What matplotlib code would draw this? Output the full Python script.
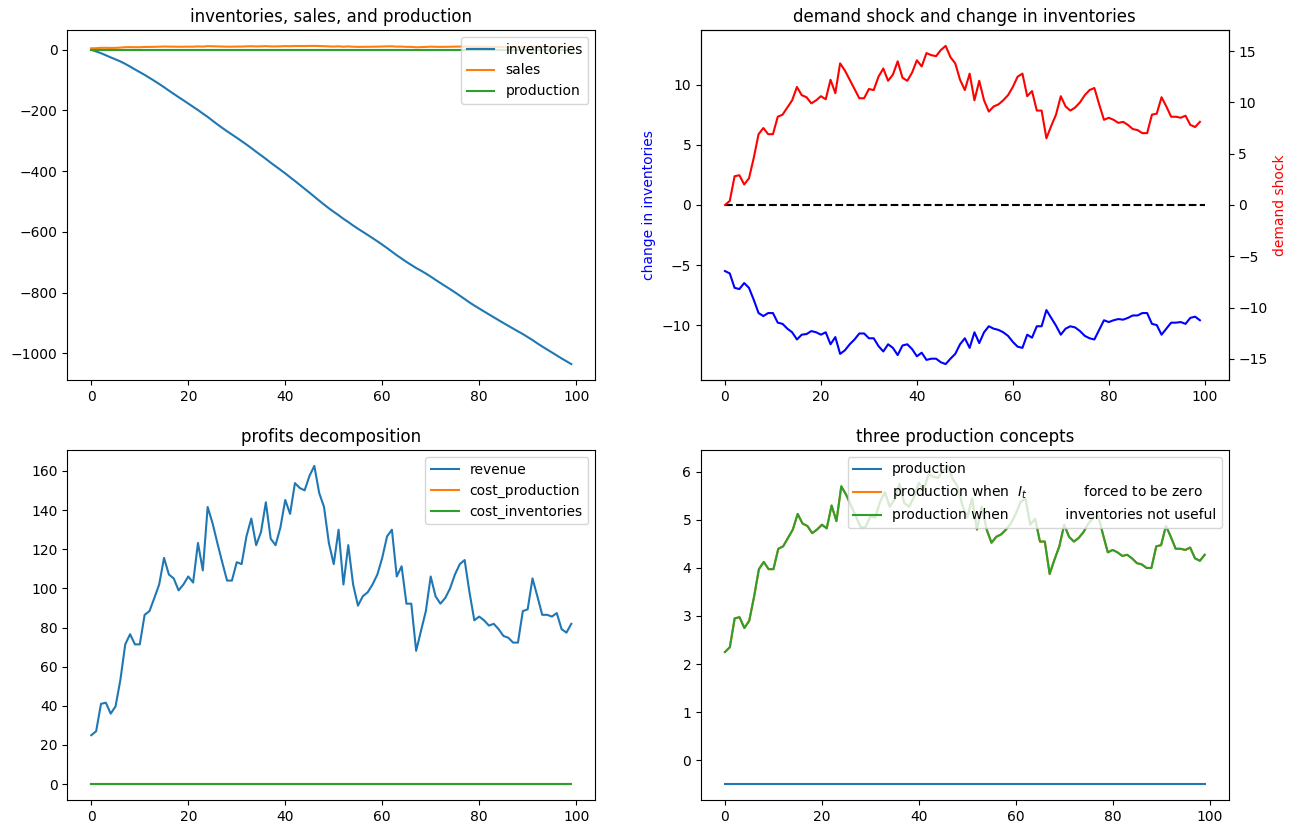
import numpy as np
import matplotlib.pyplot as plt

# demand shock (right axis of the top right panel)
demand_shock = [0.0, 0.4, 2.8, 2.9, 2.0, 2.6, 4.6, 6.9, 7.5, 6.9,
                6.9, 8.6, 8.8, 9.5, 10.2, 11.5, 10.7, 10.5, 9.9, 10.2,
                10.6, 10.3, 12.2, 10.9, 13.8, 13.1, 12.2, 11.3, 10.4, 10.4,
                11.3, 11.2, 12.5, 13.3, 12.1, 12.7, 14.0, 12.4, 12.1, 12.9,
                14.1, 13.5, 14.8, 14.6, 14.5, 15.1, 15.5, 14.4, 13.8, 12.2,
                11.2, 12.8, 10.2, 12.1, 10.2, 9.1, 9.6, 9.8, 10.2, 10.7,
                11.5, 12.5, 12.8, 10.6, 11.1, 9.2, 9.2, 6.5, 7.7, 8.8,
                10.6, 9.6, 9.2, 9.5, 10.0, 10.7, 11.2, 11.4, 9.8, 8.3,
                8.5, 8.3, 8.0, 8.1, 7.8, 7.4, 7.3, 7.0, 7.0, 8.8,
                8.9, 10.5, 9.6, 8.6, 8.6, 8.5, 8.7, 7.8, 7.6, 8.1]

# change in inventories (left axis of the top right panel)
change_inv = [-5.5, -5.7, -6.9, -7.0, -6.5, -6.9, -7.9, -9.0, -9.25, -9.0,
              -9.0, -9.8, -9.9, -10.3, -10.6, -11.2, -10.8, -10.75, -10.5, -10.6,
              -10.8, -10.6, -11.6, -11.0, -12.4, -12.1, -11.6, -11.2, -10.7, -10.7,
              -11.1, -11.1, -11.75, -12.2, -11.6, -11.9, -12.5, -11.7, -11.6, -12.0,
              -12.6, -12.3, -12.9, -12.8, -12.8, -13.1, -13.25, -12.8, -12.4, -11.6,
              -11.1, -11.9, -10.6, -11.5, -10.6, -10.1, -10.3, -10.4, -10.6, -10.9,
              -11.4, -11.8, -11.9, -10.8, -11.05, -10.1, -10.1, -8.75, -9.4, -10.05,
              -10.8, -10.3, -10.1, -10.2, -10.5, -10.9, -11.1, -11.2, -10.4, -9.6,
              -9.75, -9.6, -9.5, -9.55, -9.4, -9.2, -9.2, -9.0, -9.0, -9.9,
              -10.0, -10.8, -10.3, -9.8, -9.8, -9.75, -9.9, -9.4, -9.3, -9.6]

# inventories level
inventories = [0.0, -5.5, -11.2, -18.1, -25.1, -31.6, -38.5, -46.4, -55.4, -64.65,
               -73.65, -82.65, -92.45, -102.35, -112.65, -123.25, -134.45, -145.25, -156.0, -166.5,
               -177.1, -187.9, -198.5, -210.1, -221.1, -233.5, -245.6, -257.2, -268.4, -279.1,
               -289.8, -300.9, -312.0, -323.75, -335.95, -347.55, -359.45, -371.95, -383.65, -395.25,
               -407.25, -419.85, -432.15, -445.05, -457.85, -470.65, -483.75, -497.0, -509.8, -522.2,
               -533.8, -544.9, -556.8, -567.4, -578.9, -589.5, -599.6, -609.9, -620.3, -630.9,
               -641.8, -653.2, -665.0, -676.9, -687.7, -698.75, -708.85, -718.95, -727.7, -737.1,
               -747.15, -757.95, -768.25, -778.35, -788.55, -799.05, -809.95, -821.05, -832.25, -842.65,
               -852.25, -862.0, -871.6, -881.1, -890.65, -900.05, -909.25, -918.45, -927.45, -936.45,
               -946.35, -956.35, -967.15, -977.45, -987.25, -997.05, -1006.8, -1016.7, -1026.1, -1035.4]

sales = [5.0, 5.2, 6.4, 6.45, 6.0, 6.3, 7.3, 8.45, 8.75, 8.45,
         8.45, 9.3, 9.4, 9.75, 10.1, 10.75, 10.35, 10.25, 9.95, 10.1,
         10.3, 10.15, 11.1, 10.45, 11.9, 11.55, 11.1, 10.65, 10.2, 10.2,
         10.65, 10.6, 11.25, 11.65, 11.05, 11.35, 12.0, 11.2, 11.05, 11.45,
         12.05, 11.75, 12.4, 12.3, 12.25, 12.55, 12.75, 12.2, 11.9, 11.1,
         10.6, 11.4, 10.1, 11.05, 10.1, 9.55, 9.8, 9.9, 10.1, 10.35,
         10.75, 11.25, 11.4, 10.3, 10.55, 9.6, 9.6, 8.25, 8.85, 9.4,
         10.3, 9.8, 9.6, 9.75, 10.0, 10.35, 10.6, 10.7, 9.9, 9.15,
         9.25, 9.15, 9.0, 9.05, 8.9, 8.7, 8.65, 8.5, 8.5, 9.4,
         9.45, 10.25, 9.8, 9.3, 9.3, 9.25, 9.35, 8.9, 8.8, 9.05]

production = [-0.5] * 100

# profits decomposition
revenue = [25.0, 27.0, 41.0, 41.6, 36.0, 39.7, 53.3, 71.4, 76.6, 71.4,
           71.4, 86.5, 88.4, 95.1, 102.0, 115.6, 107.1, 105.1, 99.0, 102.0,
           106.1, 103.0, 123.2, 109.2, 141.6, 133.4, 123.2, 113.4, 104.0, 104.0,
           113.4, 112.4, 126.6, 135.7, 122.1, 128.8, 144.0, 125.4, 122.1, 131.1,
           145.2, 138.1, 153.8, 151.3, 150.1, 157.5, 162.6, 148.8, 141.6, 123.2,
           112.4, 130.0, 102.0, 122.1, 102.0, 91.2, 96.0, 98.0, 102.0, 107.1,
           115.6, 126.6, 130.0, 106.1, 111.3, 92.2, 92.2, 68.1, 78.3, 88.4,
           106.1, 96.0, 92.2, 95.1, 100.0, 107.1, 112.4, 114.5, 98.0, 83.7,
           85.6, 83.7, 81.0, 81.9, 79.2, 75.7, 74.8, 72.3, 72.3, 88.4,
           89.3, 105.1, 96.0, 86.5, 86.5, 85.6, 87.4, 79.2, 77.4, 81.9]
cost_production = [0.0] * 100
cost_inventories = [0.0] * 100

# three production concepts
prod_no_inv = [2.25, 2.35, 2.95, 2.975, 2.75, 2.9, 3.4, 3.975, 4.125, 3.975,
               3.975, 4.4, 4.45, 4.625, 4.8, 5.125, 4.925, 4.875, 4.725, 4.8,
               4.9, 4.825, 5.3, 4.975, 5.7, 5.525, 5.3, 5.075, 4.85, 4.85,
               5.075, 5.05, 5.375, 5.575, 5.275, 5.425, 5.75, 5.35, 5.275, 5.475,
               5.775, 5.625, 5.95, 5.9, 5.875, 6.025, 6.125, 5.85, 5.7, 5.3,
               5.05, 5.45, 4.8, 5.275, 4.8, 4.525, 4.65, 4.7, 4.8, 4.925,
               5.125, 5.375, 5.45, 4.9, 5.025, 4.55, 4.55, 3.875, 4.175, 4.45,
               4.9, 4.65, 4.55, 4.625, 4.75, 4.925, 5.05, 5.1, 4.7, 4.325,
               4.375, 4.325, 4.25, 4.275, 4.2, 4.1, 4.075, 4.0, 4.0, 4.45,
               4.475, 4.875, 4.65, 4.4, 4.4, 4.375, 4.425, 4.2, 4.15, 4.275]
prod_useless = list(prod_no_inv)

zero_line = [0.0, 0.0]
zero_span = [0, 100]

#%%
fig, axes = plt.subplots(2, 2, figsize=(12.97, 8.34), dpi=100)

# inventories, sales and production
ax = axes[0, 0]
ax.plot(inventories, label="inventories")
ax.plot(sales, label="sales")
ax.plot(production, label="production")
ax.legend(loc="upper right")
ax.set_title("inventories, sales, and production")

# demand shock vs change in inventories
ax = axes[0, 1]
ax.plot(change_inv, "b")
ax.plot(zero_span, zero_line, "k--")
lim = 1.1 * np.abs(change_inv).max()
ax.set_ylim(-lim, lim)
ax.set_ylabel("change in inventories", color="b")
ax2 = ax.twinx()
ax2.plot(demand_shock, "r")
lim2 = 1.1 * np.abs(demand_shock).max()
ax2.set_ylim(-lim2, lim2)
ax2.set_ylabel("demand shock", color="r")
ax.set_title("demand shock and change in inventories")

# profits
ax = axes[1, 0]
ax.plot(revenue, label="revenue")
ax.plot(cost_production, label="cost_production")
ax.plot(cost_inventories, label="cost_inventories")
ax.legend(loc="upper right")
ax.set_title("profits decomposition")

# production concepts
ax = axes[1, 1]
ax.plot(production, label="production")
ax.plot(prod_no_inv, label="production when  $I_t$" + " " * 13 + "forced to be zero")
ax.plot(prod_useless, label="production when" + " " * 13 + "inventories not useful")
ax.legend(loc="upper right")
ax.set_title("three production concepts")

# axes boxes as in the reference
W, H = 1297, 834
def box(x0, y0, x1, y1):
    return [x0 / W, 1 - y1 / H, (x1 - x0) / W, (y1 - y0) / H]

axes[0, 0].set_position(box(67.3, 30, 595.3, 380))
axes[0, 1].set_position(box(701, 30, 1228.7, 380))
axes[1, 0].set_position(box(67.3, 450, 595.3, 800))
axes[1, 1].set_position(box(701, 450, 1228.7, 800))

plt.savefig("out.png")
